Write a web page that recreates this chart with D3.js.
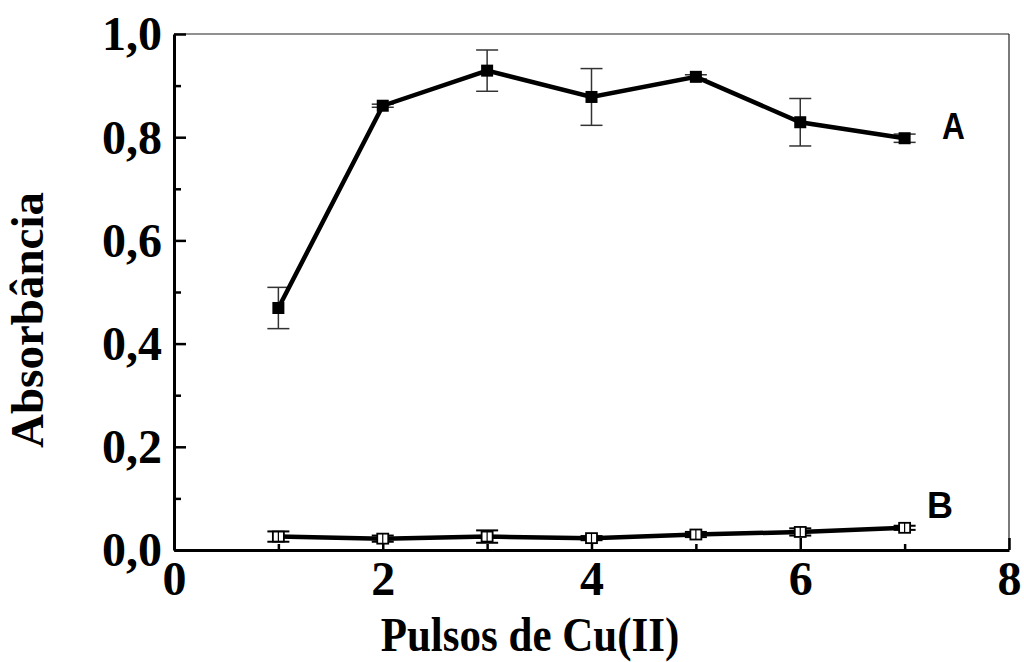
<!DOCTYPE html>
<html>
<head>
<meta charset="utf-8">
<script src="https://cdn.jsdelivr.net/npm/d3@7"></script>
<style>
  html, body { margin: 0; padding: 0; background: #fff; }
  svg { display: block; }
</style>
</head>
<body>
<svg id="chart" width="1024" height="662"></svg>
<script>
// Pulses of Cu(II) applied
const pulses = [1, 2, 3, 4, 5, 6, 7];

// Series A: absorbance and standard deviation
const absA = [0.469, 0.861, 0.929, 0.878, 0.917, 0.829, 0.798];
const errA = [0.040, 0.003, 0.040, 0.055, 0.004, 0.046, 0.008];

// Series B: absorbance and standard deviation
const absB = [0.026, 0.022, 0.026, 0.023, 0.030, 0.035, 0.043];
const errB = [0.010, 0.006, 0.012, 0.004, 0.005, 0.007, 0.004];

const xTicks = [0, 2, 4, 6, 8];
const xMinor = [1, 3, 5, 7];
const yTicks = [0, 0.2, 0.4, 0.6, 0.8, 1.0];
const yMinor = [0.1, 0.3, 0.5, 0.7, 0.9];

const xTitle = "Pulsos de Cu(II)";
const yTitle = "Absorbância";

const svg = d3.select("#chart");
const plotLeft = 174, plotRight = 1009, plotTop = 34, plotBottom = 550;

const x = d3.scaleLinear().domain([0, 8]).range([plotLeft, plotRight]);
const y = d3.scaleLinear().domain([0, 1]).range([plotBottom, plotTop]);

const fmt = d => d3.format(".1f")(d).replace(".", ",");
const serif = "'Liberation Serif', 'Times New Roman', serif";

// thin frame on top and right
svg.append("line").attr("x1", plotLeft).attr("x2", plotRight).attr("y1", plotTop).attr("y2", plotTop)
  .attr("stroke", "#222").attr("stroke-width", 1.2);
svg.append("line").attr("x1", plotRight).attr("x2", plotRight).attr("y1", plotTop).attr("y2", plotBottom)
  .attr("stroke", "#222").attr("stroke-width", 1.2);

// left axis, ticks pointing inward
const yAxis = svg.append("g").attr("transform", `translate(${plotLeft},0)`)
  .call(d3.axisLeft(y).tickValues(yTicks).tickSizeInner(-12).tickSizeOuter(0).tickPadding(12).tickFormat(fmt));
svg.append("g").attr("transform", `translate(${plotLeft},0)`)
  .call(d3.axisLeft(y).tickValues(yMinor).tickSizeInner(-7).tickSizeOuter(0).tickFormat(""))
  .call(g => g.select(".domain").remove());

// bottom axis, ticks pointing inward
const xAxis = svg.append("g").attr("transform", `translate(0,${plotBottom})`)
  .call(d3.axisBottom(x).tickValues(xTicks).tickSizeInner(-12).tickSizeOuter(0).tickPadding(12).tickFormat(d3.format("d")));
svg.append("g").attr("transform", `translate(0,${plotBottom})`)
  .call(d3.axisBottom(x).tickValues(xMinor).tickSizeInner(-6).tickSizeOuter(0).tickFormat(""))
  .call(g => g.select(".domain").remove());

svg.selectAll(".domain").attr("stroke", "#000").attr("stroke-width", 3);
svg.selectAll(".tick line").attr("stroke", "#000").attr("stroke-width", 2.5);
svg.selectAll(".tick text")
  .attr("fill", "#000")
  .style("font-family", serif)
  .style("font-weight", "bold")
  .style("font-size", "48px");
yAxis.selectAll(".tick text").attr("dy", "0.33em");
xAxis.selectAll(".tick text").attr("dy", "0.68em");

// axis titles
svg.append("text")
  .attr("transform", "translate(530,651) scale(1,1.15)")
  .attr("text-anchor", "middle")
  .style("font-family", serif)
  .style("font-weight", "bold").style("font-size", "43px")
  .text(xTitle);
svg.append("text")
  .attr("transform", "translate(43,320) rotate(-90)")
  .attr("text-anchor", "middle")
  .style("font-family", serif)
  .style("font-weight", "bold").style("font-size", "47px")
  .text(yTitle);

const line = d3.line().x(d => x(d[0])).y(d => y(d[1]));

function errorBars(vals, errs, color, width) {
  const g = svg.append("g").attr("stroke", color).attr("stroke-width", width);
  pulses.forEach((p, i) => {
    const cx = x(p), y1 = y(vals[i] + errs[i]), y0 = y(vals[i] - errs[i]);
    g.append("line").attr("x1", cx).attr("x2", cx).attr("y1", y1).attr("y2", y0);
    g.append("line").attr("x1", cx - 11).attr("x2", cx + 11).attr("y1", y1).attr("y2", y1);
    g.append("line").attr("x1", cx - 11).attr("x2", cx + 11).attr("y1", y0).attr("y2", y0);
  });
}

// Series A
errorBars(absA, errA, "#333", 1.5);
svg.append("path").datum(pulses.map((p, i) => [p, absA[i]]))
  .attr("d", line).attr("fill", "none").attr("stroke", "#000").attr("stroke-width", 4.5);
svg.append("g").selectAll("rect").data(pulses).join("rect")
  .attr("x", (d) => x(d) - 6).attr("y", (d, i) => y(absA[i]) - 6)
  .attr("width", 12).attr("height", 12).attr("fill", "#000");

// Series B
svg.append("path").datum(pulses.map((p, i) => [p, absB[i]]))
  .attr("d", line).attr("fill", "none").attr("stroke", "#000").attr("stroke-width", 4.5);
errorBars(absB, errB, "#000", 2);
svg.append("g").selectAll("rect").data(pulses).join("rect")
  .attr("x", (d) => x(d) - 5.5).attr("y", (d, i) => y(absB[i]) - 5)
  .attr("width", 11).attr("height", 10).attr("fill", "#fff")
  .attr("stroke", "#000").attr("stroke-width", 1.8);
svg.append("g").selectAll("line").data(pulses).join("line")
  .attr("x1", d => x(d)).attr("x2", d => x(d))
  .attr("y1", (d, i) => y(absB[i]) - 5).attr("y2", (d, i) => y(absB[i]) + 5)
  .attr("stroke", "#000").attr("stroke-width", 1.2);

// series labels
svg.append("text").attr("transform", "translate(942,139) scale(0.88,1.03)")
  .style("font-family", "'Liberation Sans', Arial, sans-serif")
  .style("font-weight", "bold").style("font-size", "36px")
  .text("A");
svg.append("text").attr("x", 927).attr("y", 518)
  .style("font-family", "'Liberation Sans', Arial, sans-serif")
  .style("font-weight", "bold").style("font-size", "36px")
  .text("B");
</script>
</body>
</html>
